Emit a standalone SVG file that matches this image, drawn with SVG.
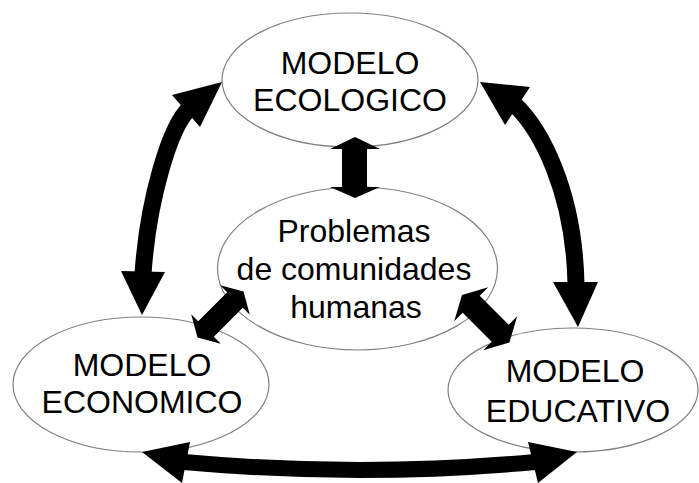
<svg xmlns="http://www.w3.org/2000/svg" width="699" height="483" viewBox="0 0 699 483">
<style>
.node ellipse{fill:#fff;stroke:#808080;stroke-width:1.2}
.node text{font-family:"Liberation Sans",Arial,sans-serif;font-size:32px;fill:#000;text-anchor:middle}
.shaft{fill:none;stroke:#000;stroke-width:17}
.head{fill:#000;stroke:none}
</style>
<rect width="699" height="483" fill="#fff"/>
<g id="node-ecologico" class="node">
<ellipse cx="350" cy="80" rx="128" ry="67"/>
<text x="350" y="74">MODELO</text>
<text x="350" y="111">ECOLOGICO</text>
</g>
<g id="node-problemas" class="node">
<ellipse cx="357.5" cy="268.5" rx="140" ry="81.5"/>
<text x="354" y="242">Problemas</text>
<text x="354" y="280">de comunidades</text>
<text x="356" y="318">humanas</text>
</g>
<g id="node-economico" class="node">
<ellipse cx="141" cy="384.5" rx="128" ry="67.5"/>
<text x="142" y="376">MODELO</text>
<text x="142" y="413">ECONOMICO</text>
</g>
<g id="node-educativo" class="node">
<ellipse cx="573" cy="390" rx="125" ry="62"/>
<text x="575" y="382">MODELO</text>
<text x="578" y="422">EDUCATIVO</text>
</g>
<g id="connectors">
<path class="shaft" d="M190,108 C170,125 148,200 143,274"/>
<polygon class="head" points="222,82 172,95 200,127"/>
<polygon class="head" points="142,315 121,271 165,272"/>
<path class="shaft" d="M514,104 C540,128 574,190 576,284"/>
<polygon class="head" points="480,82 530,87 505,125"/>
<polygon class="head" points="578,327 553,282 598,282"/>
<path class="shaft" style="stroke-width:16" d="M184,462 Q360,478 535,462"/>
<polygon class="head" points="142,452 190,442 182,483"/>
<polygon class="head" points="577,452 528,442 538,483"/>
<polygon class="head" points="355,137 380,149 367,149 367,187 380,187 355,198 330,187 342,187 342,149 330,149"/>
<polygon class="head" points="243.5,291.5 249.8,314.8 242.8,307.8 213.8,336.8 220.8,343.8 197.5,337.5 191.2,314.2 198.2,321.2 227.2,292.2 220.2,285.2"/>
<polygon class="head" points="462,295 488.2,287.2 479.7,295.7 508.7,324.7 517.2,316.2 509.4,342.4 483.2,350.2 491.7,341.7 462.7,312.7 454.2,321.2"/>
</g>
</svg>
